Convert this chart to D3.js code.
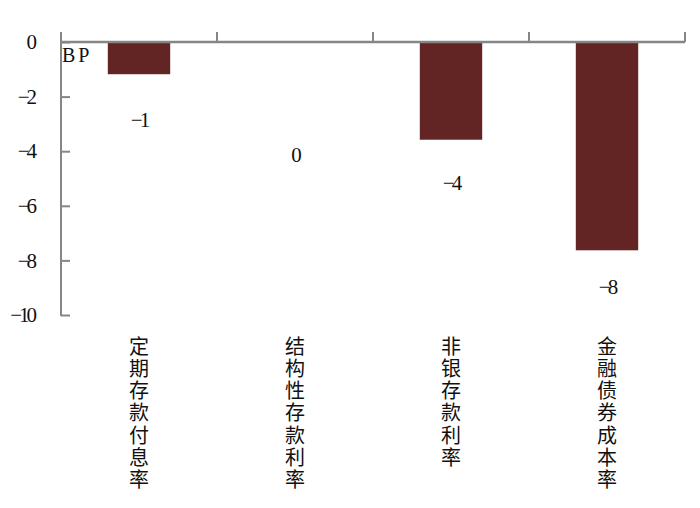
<!DOCTYPE html>
<html>
<head>
<meta charset="utf-8">
<script src="https://cdn.jsdelivr.net/npm/d3@7"></script>
<style>
  html, body { margin: 0; padding: 0; background: #fff; }
  #chart { width: 700px; height: 508px; }
  .num { font-family: "Liberation Serif", "DejaVu Serif", serif; fill: #111; }
  .cat { font-family: "Noto Sans CJK SC", sans-serif; fill: #111; }
</style>
</head>
<body>
<div id="chart"></div>
<script>
// data
const categories = ['定期存款付息率', '结构性存款利率', '非银存款利率', '金融债券成本率'];
const values = [-1.18, 0, -3.58, -7.63];
const yTicks = [0, -2, -4, -6, -8, -10];
const unitLabel = 'BP';

const width = 700, height = 508;
const margin = { top: 42, right: 15, bottom: 193, left: 61 };
const axisColor = '#868686';
const barColor = '#632523';

const fmt = d => (d < 0 ? '\u2212' : '') + Math.abs(d);

const svg = d3.select('#chart')
    .append('svg')
    .attr('width', width)
    .attr('height', height);

const x = d3.scaleBand()
    .domain(categories)
    .range([margin.left, width - margin.right])
    .padding(0);

const y = d3.scaleLinear()
    .domain([0, -10])
    .range([margin.top, height - margin.bottom]);

// bars
const barW = x.bandwidth() * 0.4;
svg.append('g')
    .selectAll('rect')
    .data(values)
    .enter()
    .append('rect')
    .attr('x', (d, i) => x(categories[i]) + (x.bandwidth() - barW) / 2)
    .attr('y', d => y(Math.max(0, d)))
    .attr('width', barW)
    .attr('height', d => Math.abs(y(d) - y(0)))
    .attr('fill', barColor);

// y axis, ticks pointing inward
const yAxis = svg.append('g')
    .attr('transform', `translate(${margin.left},0)`)
    .call(d3.axisLeft(y)
        .tickValues(yTicks)
        .tickSizeInner(-9)
        .tickSizeOuter(0)
        .tickPadding(27)
        .tickFormat(fmt));
yAxis.select('.domain').remove();
yAxis.selectAll('line').attr('stroke', axisColor).attr('stroke-width', 2);
yAxis.selectAll('text')
    .attr('class', 'num')
    .style('font-size', '21px')
    .attr('letter-spacing', '-3');
svg.append('line')
    .attr('x1', margin.left).attr('x2', margin.left)
    .attr('y1', margin.top - 10).attr('y2', y(-10) + 1)
    .attr('stroke', axisColor).attr('stroke-width', 2);

// category axis along zero
svg.append('line')
    .attr('x1', margin.left).attr('x2', width - margin.right)
    .attr('y1', y(0)).attr('y2', y(0))
    .attr('stroke', axisColor).attr('stroke-width', 2.5);
svg.append('g')
    .selectAll('line')
    .data(categories)
    .enter()
    .append('line')
    .attr('x1', d => x(d) + x.bandwidth())
    .attr('x2', d => x(d) + x.bandwidth())
    .attr('y1', y(0) - 10)
    .attr('y2', y(0))
    .attr('stroke', axisColor)
    .attr('stroke-width', 2);

// value labels (offsets)
const labelDy = [45, 113, 43, 36];
svg.append('g')
    .selectAll('text')
    .data(values)
    .enter()
    .append('text')
    .attr('class', 'num')
    .attr('x', (d, i) => x(categories[i]) + x.bandwidth() / 2)
    .attr('y', (d, i) => y(d) + labelDy[i])
    .attr('dy', '0.35em')
    .attr('text-anchor', 'middle')
    .attr('letter-spacing', '-3')
    .style('font-size', '21px')
    .text(d => fmt(Math.round(d)));

// unit label
svg.append('text')
    .attr('class', 'num')
    .attr('x', margin.left + 1)
    .attr('y', 62)
    .attr('letter-spacing', '3')
    .style('font-size', '20px')
    .text(unitLabel);

// vertical category labels
svg.append('g')
    .selectAll('text')
    .data(categories)
    .enter()
    .append('text')
    .attr('class', 'cat')
    .attr('x', d => x(d) + x.bandwidth() / 2)
    .attr('y', 336)
    .style('writing-mode', 'vertical-rl')
    .style('text-orientation', 'upright')
    .style('font-size', '20px')
    .attr('letter-spacing', '2.3')
    .text(d => d);
</script>
</body>
</html>
